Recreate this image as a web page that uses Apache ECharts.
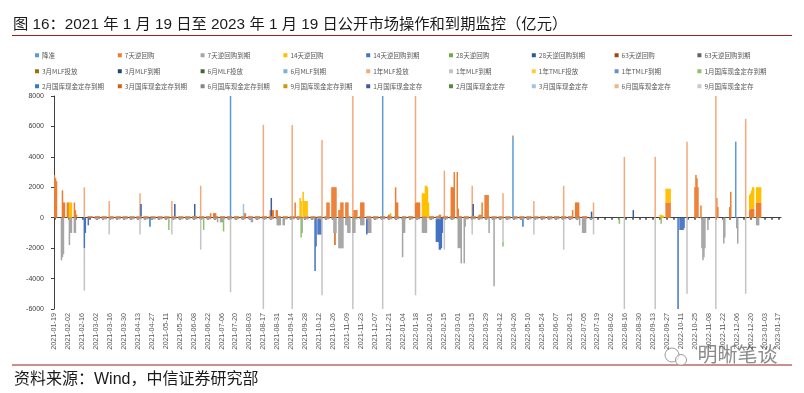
<!DOCTYPE html>
<html><head><meta charset="utf-8">
<script src="https://cdn.jsdelivr.net/npm/echarts@6/dist/echarts.min.js"></script>
<style>html,body{margin:0;padding:0;background:#fff}#c{width:804px;height:393px}</style>
</head><body><div id="c"></div>
<script>
// ---------------- DATA (亿元) ----------------
const startDate = '2021-01-19';
const endDate = '2023-01-19';

const seriesNames = ['降准','7天逆回购','7天逆回购到期','14天逆回购','14天逆回购到期','28天逆回购','28天逆回购到期','63天逆回购','63天逆回购到期',
  '3月MLF投放','3月MLF到期','6月MLF投放','6月MLF到期','1年MLF投放','1年MLF到期','1年TMLF投放','1年TMLF到期','1月国库现金定存到期',
  '2月国库现金定存到期','3月国库现金定存到期','6月国库现金定存到期','9月国库现金定存到期','1月国库现金定存','2月国库现金定存','3月国库现金定存','6月国库现金定存','9月国库现金定存'];

const yTicks = [-6000,-4000,-2000,0,2000,4000,6000,8000];

const rrrCut = [['2021-07-15',10000],['2021-12-15',12000],['2022-04-25',5300],['2022-12-05',5000]];

// routine daily 100亿 7-day operations (weekdays) and their maturities
const rr7Routine = [['2021-02-22','2021-12-31',100],['2022-01-04','2022-07-08',100]];
const rr7MatRoutine = [['2021-03-01','2022-01-07',-100],['2022-01-11','2022-07-15',-100]];

const rr7 = [
  ['2021-01-19',2800],['2021-01-20',2600],['2021-01-21',2400],['2021-01-27',1800],['2021-01-28',1000],['2021-01-29',1000],
  ['2021-02-01',1000],['2021-02-02',1000],['2021-02-08',1000],['2021-02-09',500],['2021-02-10',200],
  ['2021-06-25',300],['2021-06-28',300],['2021-06-29',300],['2021-06-30',300],['2021-07-29',300],['2021-07-30',300],
  ['2021-08-24',500],['2021-08-26',500],['2021-08-27',500],['2021-08-30',500],['2021-08-31',500],
  ['2021-09-18',1000],
  ['2021-10-20',1000],['2021-10-21',1000],['2021-10-22',1000],['2021-10-25',2000],['2021-10-26',2000],['2021-10-27',2000],['2021-10-28',2000],['2021-10-29',2000],
  ['2021-11-01',500],['2021-11-02',500],['2021-11-03',1000],['2021-11-04',1000],['2021-11-05',1000],['2021-11-08',1000],['2021-11-09',1000],['2021-11-10',1000],
  ['2021-11-16',500],['2021-11-17',500],['2021-11-18',500],['2021-11-19',500],['2021-11-23',1000],['2021-11-24',1000],['2021-11-25',1000],['2021-11-26',1000],
  ['2021-12-21',200],['2021-12-22',200],['2021-12-28',2000],['2021-12-29',1000],['2021-12-30',1000],
  ['2022-01-17',1000],['2022-01-18',1000],['2022-01-19',1000],['2022-01-20',1000],['2022-01-21',1000],
  ['2022-02-10',200],['2022-02-11',200],['2022-02-22',2000],['2022-02-23',2000],['2022-02-24',2000],['2022-02-25',3000],['2022-02-28',3000],['2022-03-01',600],
  ['2022-03-22',200],['2022-03-23',200],['2022-03-24',200],['2022-03-25',1000],['2022-03-28',1500],['2022-03-29',1500],['2022-03-30',1500],['2022-03-31',1500],
  ['2022-06-24',500],['2022-06-27',1000],['2022-06-28',1000],['2022-06-29',1000],['2022-06-30',1000],
  ['2022-09-26',1000],['2022-09-27',1000],['2022-09-28',1000],['2022-09-29',1000],['2022-09-30',1000],
  ['2022-10-25',2000],['2022-10-26',2800],['2022-10-27',2600],['2022-10-28',2000],['2022-10-31',800],
  ['2022-11-16',1300],['2022-11-17',700],['2022-11-29',700],['2022-11-30',1700],
  ['2022-12-19',500],['2022-12-20',600],['2022-12-21',600],['2022-12-22',600],['2022-12-23',600],
  ['2022-12-26',1000],['2022-12-27',1000],['2022-12-28',1000],['2022-12-29',1000],['2022-12-30',1000]
];
const rr7Mat = [
  ['2021-01-26',-2800],['2021-01-27',-2600],['2021-01-28',-2400],['2021-02-03',-1800],['2021-02-04',-1000],['2021-02-05',-1000],
  ['2021-02-08',-1000],['2021-02-09',-1000],
  ['2021-07-02',-300],['2021-07-05',-300],['2021-07-06',-300],['2021-07-07',-300],['2021-08-05',-300],['2021-08-06',-300],
  ['2021-08-31',-500],['2021-09-01',-500],['2021-09-02',-500],['2021-09-03',-500],['2021-09-06',-500],['2021-09-07',-500],
  ['2021-09-25',-1000],
  ['2021-10-27',-1000],['2021-10-28',-1000],['2021-10-29',-1000],['2021-11-01',-2000],['2021-11-02',-2000],['2021-11-03',-2000],['2021-11-04',-2000],['2021-11-05',-2000],
  ['2021-11-08',-500],['2021-11-09',-500],['2021-11-10',-1000],['2021-11-11',-1000],['2021-11-12',-1000],['2021-11-15',-1000],['2021-11-16',-1000],['2021-11-17',-1000],
  ['2021-11-23',-500],['2021-11-24',-500],['2021-11-25',-500],['2021-11-26',-500],['2021-11-30',-1000],['2021-12-01',-1000],['2021-12-02',-1000],['2021-12-03',-1000],
  ['2022-01-04',-2600],['2022-01-05',-1000],['2022-01-06',-1000],
  ['2022-01-24',-1000],['2022-01-25',-1000],['2022-01-26',-1000],['2022-01-27',-1000],['2022-01-28',-1000],
  ['2022-03-01',-2000],['2022-03-02',-2000],['2022-03-03',-2000],['2022-03-04',-3000],['2022-03-07',-3000],['2022-03-08',-600],
  ['2022-04-01',-1000],['2022-04-06',-4500],
  ['2022-07-01',-500],['2022-07-04',-1000],['2022-07-05',-1000],['2022-07-06',-1000],['2022-07-07',-1000],
  ['2022-11-01',-2000],['2022-11-02',-2800],['2022-11-03',-2600],['2022-11-04',-2000],['2022-11-07',-800],
  ['2022-11-23',-1700],['2022-11-24',-1300],['2022-12-06',-700],['2022-12-07',-1700],
  ['2022-12-26',-500],['2022-12-27',-500],['2022-12-28',-500]
];
const rr14 = [
  ['2021-02-03',1000],['2021-02-04',1000],['2021-02-05',1000],
  ['2021-09-23',1200],['2021-09-24',1000],['2021-09-26',1700],['2021-09-27',1000],['2021-09-28',1000],['2021-09-29',1000],['2021-09-30',1000],
  ['2021-12-23',200],
  ['2022-01-24',1500],['2022-01-25',1500],['2022-01-26',1500],['2022-01-27',2000],['2022-01-28',2000],['2022-01-29',2000],['2022-01-30',1000],
  ['2022-09-20',200],['2022-09-21',200],['2022-09-22',150],['2022-09-23',150],
  ['2022-09-26',900],['2022-09-27',900],['2022-09-28',900],['2022-09-29',900],['2022-09-30',900],
  ['2022-12-19',1000],['2022-12-20',1000],['2022-12-21',1200],['2022-12-22',1400],['2022-12-23',1400],
  ['2022-12-26',1000],['2022-12-27',1000],['2022-12-28',1000],['2022-12-29',1000],['2022-12-30',1000]
];
const rr14Mat = [
  ['2021-02-18',-2000],['2021-02-19',-1000],['2021-02-22',-500],
  ['2021-10-08',-3400],['2021-10-09',-1900],['2021-10-11',-1000],['2021-10-12',-1000],['2021-10-13',-1000],['2021-10-14',-1000],
  ['2021-11-29',-1000],
  ['2022-02-07',-1500],['2022-02-08',-1500],['2022-02-09',-1500],['2022-02-10',-2000],['2022-02-11',-2000],['2022-02-12',-2000],['2022-02-13',-1000],
  ['2022-10-08',-6000],['2022-10-10',-800],['2022-10-11',-800],['2022-10-12',-800],['2022-10-13',-800],['2022-10-14',-700]
];
const mlf1y = [
  ['2021-02-18',2000],['2021-03-15',1000],['2021-04-15',1500],['2021-05-17',1000],['2021-06-15',2000],['2021-07-15',1000],
  ['2021-08-17',6000],['2021-09-15',6000],['2021-10-15',5000],['2021-11-15',10000],['2021-12-15',5000],
  ['2022-01-17',7000],['2022-02-15',3000],['2022-03-15',2000],['2022-04-15',1500],['2022-05-16',1000],['2022-06-15',2000],
  ['2022-07-15',1000],['2022-08-15',4000],['2022-09-15',4000],['2022-10-17',5000],['2022-11-15',8500],['2022-12-15',6500]
];
const mlf1yMat = [
  ['2021-02-18',-2800],['2021-03-15',-1000],['2021-04-15',-1000],['2021-05-17',-1000],['2021-06-15',-2000],['2021-07-15',-4800],
  ['2021-08-17',-7000],['2021-09-15',-6000],['2021-10-15',-5000],['2021-11-15',-10000],['2021-12-15',-9500],
  ['2022-01-17',-5000],['2022-02-15',-2000],['2022-03-15',-1000],['2022-04-15',-1500],['2022-05-16',-1000],['2022-06-15',-2000],
  ['2022-07-15',-1000],['2022-08-15',-6000],['2022-09-15',-6000],['2022-10-17',-5000],['2022-11-15',-10000],['2022-12-15',-5000]
];
const tdep1m = [['2021-04-16',800],['2021-05-20',800],['2021-06-09',800],['2021-08-25',1200],['2022-03-16',800],['2022-07-13',400],['2022-08-24',500]];
const tdep1mMat = [['2021-05-14',-700],['2021-06-18',-700],['2021-07-08',-800],['2021-09-24',-1200],['2022-04-15',-300],['2022-08-10',-400],['2022-09-21',-400]];
const tdep2mMat = [['2021-04-25',-600],['2022-05-05',-500]];
const tdep3m = [['2021-07-28',800]];
const tdep3mMat = [['2021-10-28',-800]];

// ---------------- BUILD ----------------
function dayOf(s){const p=s.split('-').map(Number);return Date.UTC(p[0],p[1]-1,p[2])/86400000;}
function fmt(n){const d=new Date(n*86400000);return d.toISOString().slice(0,10);}
const d0 = dayOf(startDate), d1 = dayOf(endDate);
const categories = [];
for (let n=d0;n<=d1;n++) categories.push(fmt(n));
const N = categories.length;

function build(points, runs){
  const arr = new Array(N).fill(null);
  (runs||[]).forEach(r=>{
    for(let n=dayOf(r[0]);n<=dayOf(r[1]);n++){
      const wd = new Date(n*86400000).getUTCDay();
      if(wd!==0 && wd!==6) arr[n-d0]=r[2];
    }
  });
  (points||[]).forEach(p=>{ const i=dayOf(p[0])-d0; if(i>=0&&i<N) arr[i]=p[1]; });
  return arr;
}

const seriesData = {
  '降准': build(rrrCut),
  '7天逆回购': build(rr7, rr7Routine),
  '7天逆回购到期': build(rr7Mat, rr7MatRoutine),
  '14天逆回购': build(rr14),
  '14天逆回购到期': build(rr14Mat),
  '1年MLF投放': build(mlf1y),
  '1年MLF到期': build(mlf1yMat),
  '1月国库现金定存': build(tdep1m),
  '1月国库现金定存到期': build(tdep1mMat),
  '2月国库现金定存到期': build(tdep2mMat),
  '3月国库现金定存': build(tdep3m),
  '3月国库现金定存到期': build(tdep3mMat)
};

const colors = ['#5B9BD5','#ED7D31','#A5A5A5','#FFC000','#4472C4','#70AD47','#255E91','#9E480E','#636363',
  '#997300','#264478','#43682B','#7CAFDD','#F4A97A','#C4C4C4','#FFCD33','#698ED0','#8CC168',
  '#327DC2','#D26012','#848484','#CC9A00','#3A5DA0','#5A8A39','#9DC3E6','#F4B183','#C9C9C9'];

const series = seriesNames.map((name,i)=>({
  name, type:'bar', stack:'all', barWidth:1.5, xAxisIndex:0,
  itemStyle:{color:colors[i]},
  data: seriesData[name] || [],
  emphasis:{disabled:true}
}));

// one legend component per item, laid out in a fixed 9-column grid
const legendRowTops = [52, 68, 83];
const legends = seriesNames.map((name,i)=>({
  left: 35 + (i%9)*82.8, top: legendRowTops[Math.floor(i/9)],
  data:[name], itemWidth:4, itemHeight:4, itemGap:0, icon:'rect', selectedMode:false, padding:0,
  textStyle:{fontSize:6.5, color:'#595959', padding:[0,0,0,-2], fontFamily:'"Noto Sans CJK SC", "Liberation Sans", sans-serif'}
}));

const chart = echarts.init(document.getElementById('c'), null, {renderer:'canvas'});
chart.setOption({
  animation:false,
  color:colors,
  grid:{left:54, right:23, top:96, bottom:84, containLabel:false},
  legend: legends,
  xAxis:[
    {type:'category', data:categories, position:'bottom',
     axisLine:{onZero:true, lineStyle:{color:'#404040', width:1}},
     axisTick:{show:true, interval:6, length:2, alignWithLabel:true, lineStyle:{color:'#404040', width:1.5}},
     axisLabel:{show:false}, splitLine:{show:false}},
    {type:'category', data:categories, position:'bottom', offset:0,
     axisLine:{show:false, onZero:false}, axisTick:{show:false}, splitLine:{show:false},
     axisLabel:{show:true, interval:13, rotate:90, fontSize:7.2, color:'#595959', margin:4,
       fontFamily:'"Liberation Sans", Arial, sans-serif'}}
  ],
  yAxis:{type:'value', min:yTicks[0], max:yTicks[yTicks.length-1], interval:2000,
    axisLine:{show:true, lineStyle:{color:'#404040'}},
    axisTick:{show:true, length:3, lineStyle:{color:'#404040'}},
    splitLine:{show:false},
    axisLabel:{fontSize:7, color:'#404040', margin:10, formatter:v=>String(v), fontFamily:'"Liberation Sans", Arial, sans-serif'}},
  series,
  graphic:[
    {type:'text', left:13, top:17, style:{text:'图 16：2021 年 1 月 19 日至 2023 年 1 月 19 日公开市场操作和到期监控（亿元）', fontSize:15.3, fill:'#1a1a1a', fontFamily:'"Liberation Sans", "Noto Sans CJK SC", sans-serif'}},
    {type:'line', shape:{x1:12, y1:35.5, x2:792, y2:35.5}, style:{stroke:'#9C1F1F', lineWidth:1.2}},
    {type:'line', shape:{x1:12, y1:365, x2:792, y2:365}, style:{stroke:'#9C1F1F', lineWidth:1.2}},
    {type:'text', left:14, top:372, style:{text:'资料来源：Wind，中信证券研究部', fontSize:16, fill:'#1a1a1a', fontFamily:'"Liberation Sans", "Noto Sans CJK SC", sans-serif'}},
    {type:'circle', shape:{cx:672, cy:355, r:7}, style:{fill:'rgba(255,255,255,0.6)', stroke:'#9a9a9a', lineWidth:1}},
    {type:'circle', shape:{cx:681, cy:360, r:5.5}, style:{fill:'rgba(255,255,255,0.6)', stroke:'#9a9a9a', lineWidth:1}},
    {type:'text', left:697, top:344, style:{text:'明晰笔谈', fontSize:20, fill:'#8c8c8c', stroke:'#ffffff', lineWidth:1, fontFamily:'"Noto Sans CJK SC", sans-serif'}}
  ]
});
</script></body></html>
